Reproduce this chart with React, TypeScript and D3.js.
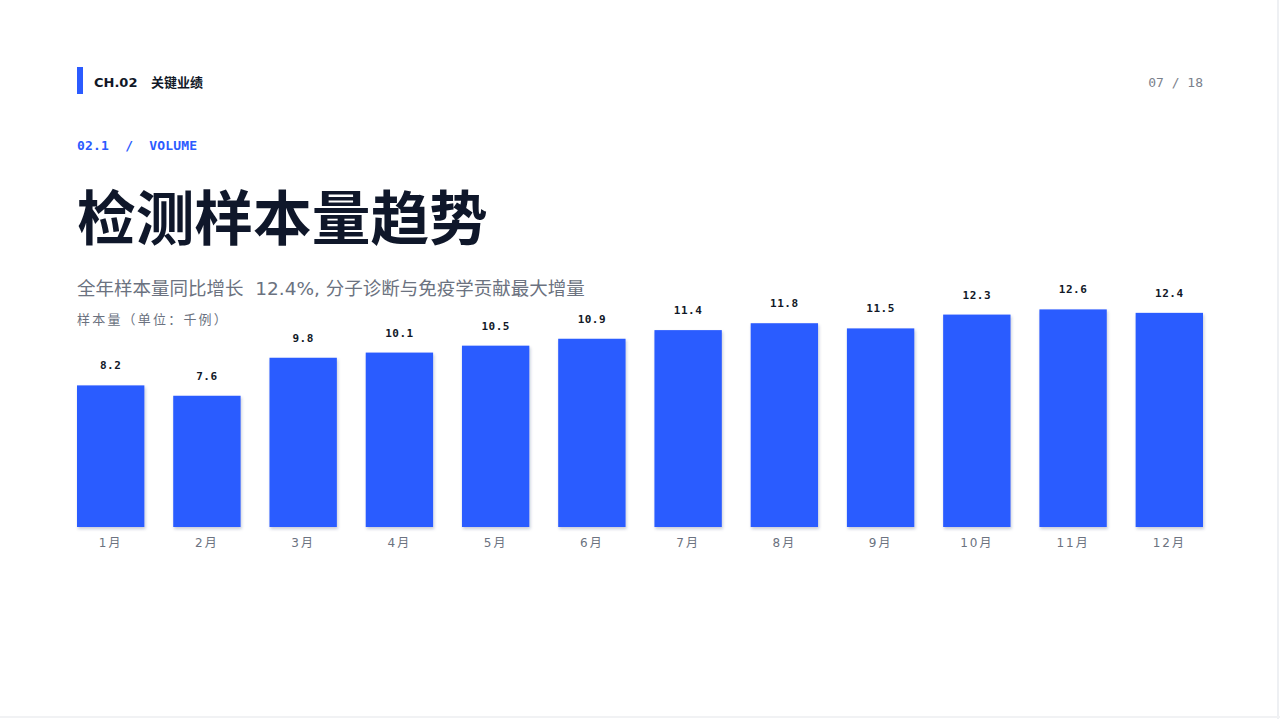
import { useRef, useEffect } from 'react';
import * as d3 from 'd3';

const months = ['1月', '2月', '3月', '4月', '5月', '6月', '7月', '8月', '9月', '10月', '11月', '12月'];
const volumes = [8.2, 7.6, 9.8, 10.1, 10.5, 10.9, 11.4, 11.8, 11.5, 12.3, 12.6, 12.4];

const CJK = '"DejaVu Sans", "Noto Sans CJK SC", sans-serif';
const MONO = '"DejaVu Sans Mono", "Liberation Mono", monospace';
const BLUE = '#2b5bff';

export default function App() {
  const svgRef = useRef<SVGSVGElement>(null);

  useEffect(() => {
    if (!svgRef.current) return;
    const svg = d3.select(svgRef.current);
    svg.selectAll('*').remove();

    const width = 1280;
    const height = 719;
    svg.attr('viewBox', `0 0 ${width} ${height}`);

    svg.append('rect').attr('width', width).attr('height', height).attr('fill', '#fff');
    svg.append('line')
      .attr('x1', width - 2).attr('x2', width - 2).attr('y1', 0).attr('y2', height)
      .attr('stroke', '#eef0f3').attr('stroke-width', 2);
    svg.append('line')
      .attr('x1', 0).attr('x2', width).attr('y1', height - 2).attr('y2', height - 2)
      .attr('stroke', '#f1f2f4').attr('stroke-width', 2);

    const defs = svg.append('defs');
    const f = defs.append('filter').attr('id', 'barShadow')
      .attr('x', '-10%').attr('y', '-10%').attr('width', '130%').attr('height', '130%');
    f.append('feDropShadow')
      .attr('dx', 1).attr('dy', 2).attr('stdDeviation', 1.5)
      .attr('flood-color', '#1e2a5a').attr('flood-opacity', 0.25);

    // Header
    svg.append('rect').attr('x', 77).attr('y', 67).attr('width', 6).attr('height', 27).attr('fill', BLUE);
    svg.append('text').attr('x', 94).attr('y', 87)
      .attr('fill', '#111827').style('font-family', CJK).style('font-size', '13px').style('font-weight', 700)
      .text('CH.02');
    svg.append('text').attr('x', 151).attr('y', 87)
      .attr('fill', '#111827').style('font-family', CJK).style('font-size', '13px').style('font-weight', 700)
      .text('关键业绩');
    svg.append('text').attr('x', 1203).attr('y', 87).attr('text-anchor', 'end')
      .attr('fill', '#7b818c').style('font-family', MONO).style('font-size', '13px')
      .text('07 / 18');

    svg.append('text').attr('x', 77).attr('y', 150)
      .attr('fill', BLUE).style('font-family', MONO).style('font-size', '13px').style('font-weight', 700)
      .style('white-space', 'pre').style('letter-spacing', '0.2px')
      .text('02.1  /  VOLUME');

    svg.append('text').attr('x', 77).attr('y', 240)
      .attr('fill', '#0f172a').style('font-family', CJK).style('font-size', '58.7px').style('font-weight', 700)
      .text('检测样本量趋势');

    svg.append('text').attr('x', 77).attr('y', 295)
      .attr('fill', '#6b7280').style('font-family', CJK).style('font-size', '18.5px')
      .style('white-space', 'pre')
      .text('全年样本量同比增长  12.4%, 分子诊断与免疫学贡献最大增量');

    svg.append('text').attr('x', 77).attr('y', 324)
      .attr('fill', '#6b7280').style('font-family', CJK).style('font-size', '13px')
      .style('letter-spacing', '2.2px')
      .text('样本量（单位：千例）');

    // Chart
    const baseY = 527;
    const x = d3.scaleBand<string>().domain(months).range([77, 1203]).paddingInner(0.3).paddingOuter(0);
    const y = d3.scaleLinear().domain([0, 14]).range([baseY, baseY - 14 * 17.27]);

    const g = svg.append('g');
    g.selectAll('rect.bar')
      .data(volumes)
      .join('rect')
      .attr('class', 'bar')
      .attr('x', (_, i) => x(months[i])!)
      .attr('y', (d) => y(d))
      .attr('width', x.bandwidth())
      .attr('height', (d) => baseY - y(d))
      .attr('fill', BLUE)
      .attr('filter', 'url(#barShadow)');

    g.selectAll('text.val')
      .data(volumes)
      .join('text')
      .attr('class', 'val')
      .attr('x', (_, i) => x(months[i])! + x.bandwidth() / 2)
      .attr('y', (d) => y(d) - 16)
      .attr('text-anchor', 'middle')
      .attr('fill', '#111827')
      .style('font-family', MONO).style('font-size', '11px').style('font-weight', 700)
      .style('letter-spacing', '0.5px')
      .text((d) => d.toFixed(1));

    g.selectAll('text.month')
      .data(months)
      .join('text')
      .attr('class', 'month')
      .attr('x', (d) => x(d)! + x.bandwidth() / 2)
      .attr('y', 547)
      .attr('text-anchor', 'middle')
      .attr('fill', '#6b7280')
      .style('font-family', CJK).style('font-size', '12px').style('letter-spacing', '2px')
      .text((d) => d);
  }, []);

  return (
    <svg
      ref={svgRef}
      width={1280}
      height={719}
      style={{ position: 'absolute', left: 0, top: 0, display: 'block' }}
    />
  );
}
